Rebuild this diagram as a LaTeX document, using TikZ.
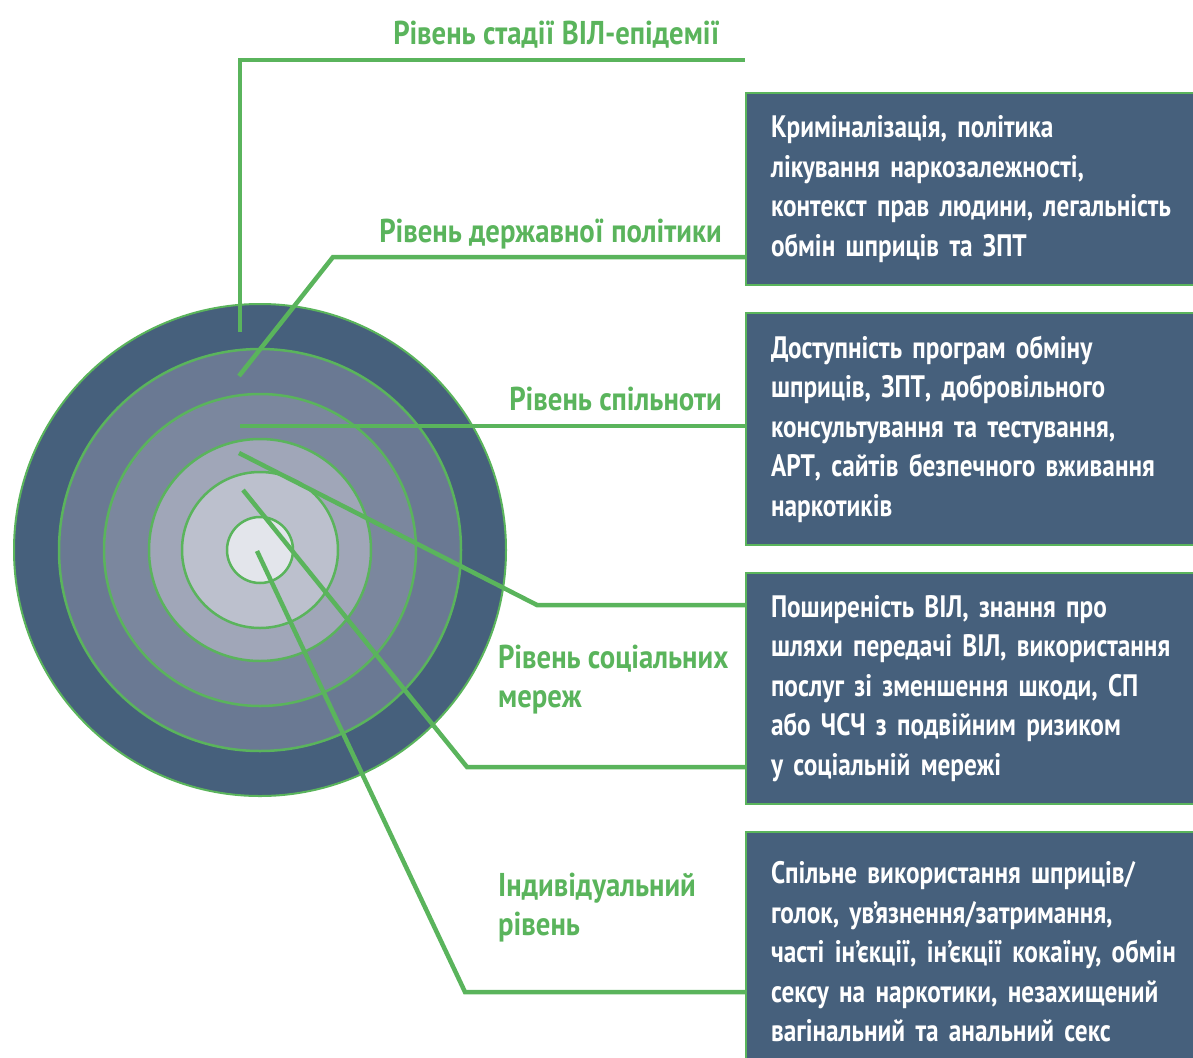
\documentclass[tikz,border=0pt]{standalone}
\usepackage{fontspec}
\newfontfamily\condfont[FakeStretch=0.815]{PT Sans Bold}
\newfontfamily\headfont[FakeStretch=0.87]{PT Sans Bold}
\newcommand\lvlfont{\condfont\fontsize{31}{39.5}\selectfont}
\newcommand\headlinefont{\headfont\fontsize{33}{39}\selectfont}
\definecolor{lgreen}{HTML}{5AB45C}
\definecolor{boxblue}{HTML}{46607C}
\definecolor{ringA}{HTML}{46607C}
\definecolor{ringB}{HTML}{6A7993}
\definecolor{ringC}{HTML}{7B879E}
\definecolor{ringD}{HTML}{A0A6B8}
\definecolor{ringE}{HTML}{BCC0CD}
\definecolor{ringF}{HTML}{E3E5EB}
\tikzset{
  ring/.style={circle, draw=lgreen, line width=2.5pt, inner sep=0pt, minimum size=#1},
  conn/.style={draw=lgreen, line width=4.5pt, line cap=butt, line join=miter},
  infobox/.style={anchor=north west, fill=boxblue, draw=lgreen, line width=2pt,
    text width=420pt, inner xsep=25pt, inner ysep=0pt, align=left,
    text=white, font=\lvlfont},
  level/.style={text=lgreen, font=\headlinefont, inner sep=0pt}
}
\begin{document}
\begin{tikzpicture}[x=1pt,y=-1pt]
\useasboundingbox (0,0) rectangle (1193,1057);
\clip (0,0) rectangle (1193,1057);

% concentric levels
\coordinate (o) at (260,550);
\node[ring=492pt, fill=ringA, line width=2pt] (r1) at (o) {};
\node[ring=402pt, fill=ringB] (r2) at (o) {};
\node[ring=312pt, fill=ringC] (r3) at (o) {};
\node[ring=222pt, fill=ringD] (r4) at (o) {};
\node[ring=156pt, fill=ringE] (r5) at (o) {};
\node[ring=66pt,  fill=ringF] (r6) at (o) {};

% description boxes
\node[infobox, minimum height=192pt] (box1) at (745,92)
  {Криміналізація, політика\\
   лікування наркозалежності,\\
   контекст прав людини, легальність\\
   обмін шприців та ЗПТ};
\node[infobox, minimum height=232pt] (box2) at (745,312)
  {Доступність програм обміну\\
   шприців, ЗПТ, добровільного\\
   консультування та тестування,\\
   АРТ, сайтів безпечного вживання\\
   наркотиків};
\node[infobox, minimum height=231pt] (box3) at (745,572)
  {Поширеність ВІЛ, знання про\\
   шляхи передачі ВІЛ, використання\\
   послуг зі зменшення шкоди, СП\\
   або ЧСЧ з подвійним ризиком\\
   у соціальній мережі};
\node[infobox, minimum height=240pt] (box4) at (745,831)
  {Спільне використання шприців/\\
   голок, ув’язнення/затримання,\\
   часті ін’єкції, ін’єкції кокаїну, обмін\\
   сексу на наркотики, незахищений\\
   вагінальний та анальний секс};

% connector anchors inside the rings and bends
\coordinate (s1) at (240,332);
\coordinate (e1) at (745,60);
\coordinate (s2) at (239,376);
\coordinate (k2) at (333,257);
\coordinate (s3) at (240,426);
\coordinate (s4) at (239,453);
\coordinate (k4) at (537,605);
\coordinate (s5) at (243,490);
\coordinate (k5) at (467,767);
\coordinate (s6) at (257,551);
\coordinate (k6) at (465,992);

\draw[conn] (s1) |- (e1);
\draw[conn] (s2) -- (k2) -- (box1.west |- k2);
\draw[conn] (s3) -- (box2.west |- s3);
\draw[conn] (s4) -- (k4) -- (box3.west |- k4);
\draw[conn] (s5) -- (k5) -- (box3.west |- k5);
\draw[conn] (s6) -- (k6) -- (box4.west |- k6);

% level labels
\node[level, anchor=base east] (l1) at (720,45) {Рівень стадії ВІЛ-епідемії};
\node[level, anchor=base east] (l2) at (722,242) {Рівень державної політики};
\node[level, anchor=base east] (l3) at (722,410) {Рівень спільноти};
\node[level, anchor=base west, align=left] (l4) at (498,707) {Рівень соціальних\\мереж};
\node[level, anchor=base west, align=left] (l5) at (498,935) {Індивідуальний\\рівень};
\end{tikzpicture}
\end{document}
